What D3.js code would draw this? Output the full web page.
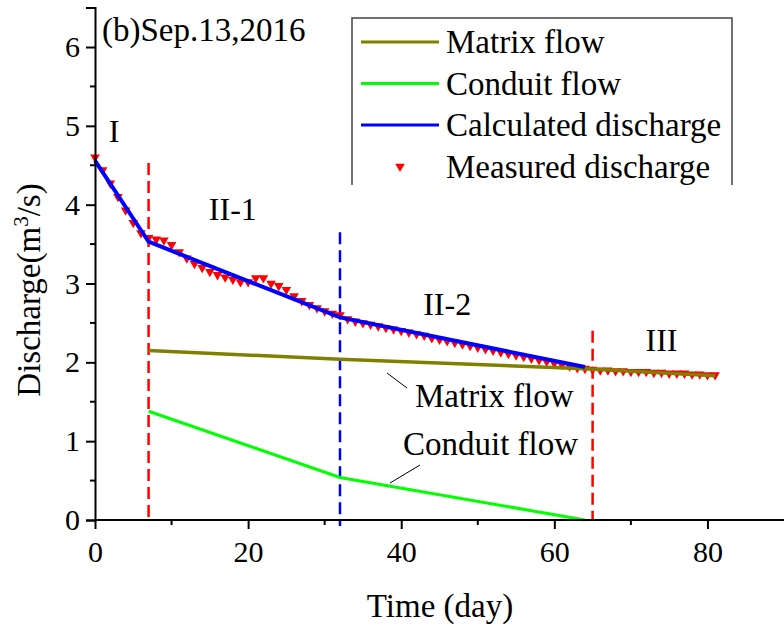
<!DOCTYPE html>
<html>
<head>
<meta charset="utf-8">
<script src="https://cdn.jsdelivr.net/npm/d3@7"></script>
<style>
	body { margin: 0; background: #fff; }
	svg text { font-family: "Liberation Serif", "Times New Roman", serif; fill: #000; }
</style>
</head>
<body>
<div id="chart"></div>
<script>
// measured discharge, one value per day from day 0
const measured = [
	4.60, 4.44, 4.27, 4.10, 3.93, 3.77, 3.64, 3.58, 3.56, 3.55,
	3.49, 3.40, 3.32, 3.25, 3.20, 3.15, 3.11, 3.08, 3.05, 3.02,
	3.02, 3.07, 3.07, 3.00, 2.97, 2.92, 2.84, 2.78, 2.73, 2.69,
	2.65, 2.62, 2.60, 2.55, 2.52, 2.50, 2.48, 2.46, 2.44, 2.42,
	2.40, 2.38, 2.36, 2.34, 2.31, 2.29, 2.27, 2.25, 2.23, 2.21,
	2.19, 2.17, 2.15, 2.13, 2.11, 2.09, 2.07, 2.05, 2.03, 2.01,
	1.99, 1.97, 1.95, 1.93, 1.92, 1.91, 1.90, 1.90, 1.89, 1.89,
	1.88, 1.88, 1.88, 1.87, 1.87, 1.86, 1.86, 1.86, 1.85, 1.85,
	1.84, 1.84
];

const calculated = [[0, 4.56], [7, 3.53], [20, 3.03], [32, 2.57], [64, 1.94]];
const matrixFlow = [[7, 2.15], [32, 2.04], [64, 1.92], [81, 1.83]];
const conduitFlow = [[7, 1.38], [32, 0.54], [64, 0]];

// stage boundaries: [day, top value, colour]
const boundaries = [[7, 4.53, "#ff0000"], [32, 3.65, "#0000ff"], [65, 2.4, "#ff0000"]];

const stageLabels = [["I", 2.5, 4.8], ["II-1", 18, 3.8], ["II-2", 46, 2.6], ["III", 74, 2.14]];

const xTicks = [0, 20, 40, 60, 80];
const xMinor = [10, 30, 50, 70];
const yTicks = [0, 1, 2, 3, 4, 5, 6];
const yMinor = [0.5, 1.5, 2.5, 3.5, 4.5, 5.5];

const legendItems = [
	{ label: "Matrix flow", color: "#808000", type: "line" },
	{ label: "Conduit flow", color: "#00ff00", type: "line" },
	{ label: "Calculated discharge", color: "#0000ff", type: "line" },
	{ label: "Measured discharge", color: "#ff0000", type: "marker" }
];

const FONT = "'Liberation Serif', 'Times New Roman', serif";

const svg = d3.select("#chart").append("svg")
	.attr("width", 784)
	.attr("height", 626)
	.attr("font-family", FONT);

const xs = d3.scaleLinear().domain([0, 90]).range([95, 784]);
const ys = d3.scaleLinear().domain([0, 6.5]).range([520, 7.6]);

// dashed stage boundaries
svg.append("g").selectAll("line")
	.data(boundaries).enter().append("line")
		.attr("x1", d => xs(d[0]))
		.attr("x2", d => xs(d[0]))
		.attr("y1", d => ys(d[1]))
		.attr("y2", d => d[2] === "#0000ff" ? ys(0) + 6 : ys(0))
		.style("stroke", d => d[2])
		.style("stroke-width", 2.5)
		.style("stroke-dasharray", "12,6");

// measured markers
const tri = d3.symbol().type(d3.symbolTriangle).size(40);
svg.append("g").selectAll("path")
	.data(measured).enter().append("path")
		.attr("d", tri)
		.attr("transform", (d, i) => "translate(" + xs(i) + "," + ys(d) + ") rotate(180)")
		.style("fill", "#ff0000");

const line = d3.line().x(d => xs(d[0])).y(d => ys(d[1]));

svg.append("path").datum(matrixFlow)
	.attr("d", line)
	.style("fill", "none").style("stroke", "#808000").style("stroke-width", 3.5);

svg.append("path").datum(conduitFlow)
	.attr("d", line)
	.style("fill", "none").style("stroke", "#00ff00").style("stroke-width", 3);

svg.append("path").datum(calculated)
	.attr("d", line)
	.style("fill", "none").style("stroke", "#0000ff").style("stroke-width", 4);

// axes
const xAxis = svg.append("g").attr("transform", "translate(0,520)");
xAxis.call(d3.axisBottom(xs).tickValues(xTicks).tickSize(9).tickPadding(12).tickFormat(d3.format("d")));
xAxis.selectAll(".minor").data(xMinor).enter().append("line")
	.attr("class", "minor")
	.attr("x1", d => xs(d)).attr("x2", d => xs(d))
	.attr("y1", 0).attr("y2", 5)
	.style("stroke", "#000").style("stroke-width", 2);
xAxis.select(".domain").attr("d", "M95,0H784");

const yAxis = svg.append("g").attr("transform", "translate(95,0)");
yAxis.call(d3.axisLeft(ys).tickValues(yTicks).tickSize(9).tickPadding(6).tickFormat(d3.format("d")));
yAxis.selectAll(".minor").data(yMinor).enter().append("line")
	.attr("class", "minor")
	.attr("x1", 0).attr("x2", -5)
	.attr("y1", d => ys(d)).attr("y2", d => ys(d))
	.style("stroke", "#000").style("stroke-width", 2);

svg.selectAll(".domain, .tick line").style("stroke", "#000").style("stroke-width", 2);
xAxis.attr("font-family", FONT).attr("font-size", 30);
yAxis.attr("font-family", FONT).attr("font-size", 30);
svg.selectAll(".tick text")
	.style("font-family", FONT)
	.style("font-size", "30px")
	.style("fill", "#000");

// axis titles
svg.append("text")
	.attr("x", 440).attr("y", 617)
	.attr("text-anchor", "middle")
	.style("font-size", "33px")
	.text("Time (day)");

const yTitle = svg.append("text")
	.attr("transform", "translate(40,290) rotate(-90)")
	.attr("text-anchor", "middle")
	.style("font-size", "33px");
yTitle.append("tspan").text("Discharge(m");
yTitle.append("tspan").attr("dy", -12).style("font-size", "21px").text("3");
yTitle.append("tspan").attr("dy", 12).text("/s)");

// panel title
svg.append("text")
	.attr("x", 102).attr("y", 41)
	.style("font-size", "33px")
	.text("(b)Sep.13,2016");

// stage labels
svg.append("g").selectAll("text")
	.data(stageLabels).enter().append("text")
		.attr("x", d => xs(d[1]))
		.attr("y", d => ys(d[2]))
		.attr("text-anchor", "middle")
		.style("font-size", "32px")
		.text(d => d[0]);

// annotations with leader lines
svg.append("line").attr("x1", 387).attr("y1", 373).attr("x2", 407).attr("y2", 388)
	.style("stroke", "#000").style("stroke-width", 1);
svg.append("text").attr("x", 415).attr("y", 407).style("font-size", "33px").text("Matrix flow");
svg.append("line").attr("x1", 420).attr("y1", 465).attr("x2", 390).attr("y2", 483)
	.style("stroke", "#000").style("stroke-width", 1);
svg.append("text").attr("x", 403).attr("y", 455).style("font-size", "33px").text("Conduit flow");

// legend
const legend = svg.append("g");
legend.append("rect")
	.attr("x", 352).attr("y", 18).attr("width", 380).attr("height", 167)
	.style("fill", "#fff");
legend.append("path")
	.attr("d", "M352,185V18H732V185")
	.style("fill", "none").style("stroke", "#444").style("stroke-width", 1.5);

const rows = legend.selectAll(".row")
	.data(legendItems).enter().append("g")
		.attr("class", "row")
		.attr("transform", (d, i) => "translate(0," + (42 + i * 41.5) + ")");

rows.filter(d => d.type === "line").append("line")
	.attr("x1", 361).attr("x2", 439).attr("y1", 0).attr("y2", 0)
	.style("stroke", d => d.color).style("stroke-width", 3);
rows.filter(d => d.type === "marker").append("path")
	.attr("d", tri)
	.attr("transform", "translate(400,0) rotate(180)")
	.style("fill", d => d.color);
rows.append("text")
	.attr("x", 446).attr("y", 11)
	.style("font-size", "33px")
	.text(d => d.label);
</script>
</body>
</html>
